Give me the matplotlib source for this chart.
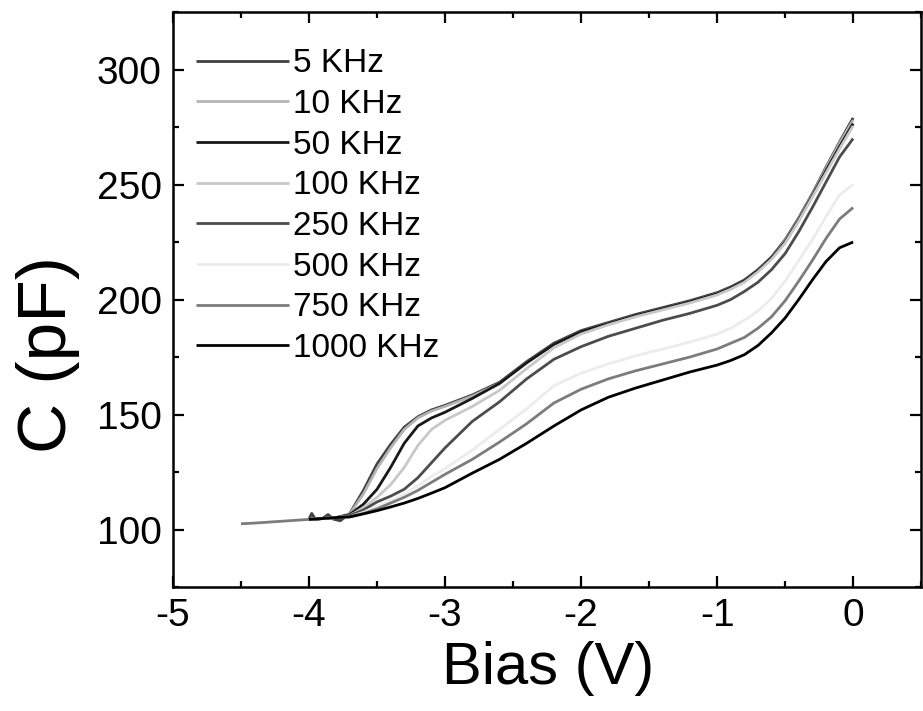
'''
C-V curves at several frequencies
'''

import matplotlib
matplotlib.use("Agg")
import matplotlib.pyplot as plt
from matplotlib.ticker import MultipleLocator

plt.rcParams['font.family'] = ['Liberation Sans', 'DejaVu Sans']
plt.rcParams['axes.unicode_minus'] = False

# shared bias grid (V)
bias = [-3.7, -3.6, -3.5, -3.4, -3.3, -3.2, -3.1, -3.0, -2.8, -2.6,
        -2.4, -2.2, -2.0, -1.8, -1.6, -1.4, -1.2, -1.0, -0.9, -0.8,
        -0.7, -0.6, -0.5, -0.4, -0.3, -0.2, -0.1, 0.0]

# low bias start (with the small noise near -4 V)
start_bias = [-4.0, -3.98, -3.95, -3.9, -3.86, -3.82, -3.77]
start_c = [104.5, 107.0, 104.2, 104.8, 106.5, 104.5, 103.8]
tail_bias = [-4.5, -4.4, -4.3, -4.2, -4.1, -4.0, -3.9, -3.8]
tail_c = [102.5, 102.8, 103.2, 103.6, 104.0, 104.4, 104.8, 105.2]
common_bias = [-4.0, -3.9, -3.8]
common_c = [104.4, 104.8, 105.2]

labels = ["5 KHz", "10 KHz", "50 KHz", "100 KHz",
          "250 KHz", "500 KHz", "750 KHz", "1000 KHz"]
colors = ["#404040", "#b4b4b4", "#181818", "#c8c8c8",
          "#4c4c4c", "#ececec", "#7c7c7c", "#000000"]

c_5k = [107.0, 117.0, 128.5, 137.0, 144.5, 149.0, 152.0, 154.0, 158.5, 164.0,
        173.0, 181.0, 186.5, 190.0, 193.5, 196.5, 199.5, 203.0, 205.5, 208.5,
        213.0, 218.5, 226.0, 235.5, 246.0, 257.5, 268.5, 279.0]
c_10k = [106.8, 115.5, 126.5, 135.5, 143.5, 148.5, 151.5, 153.5, 158.0, 163.5,
         172.5, 180.5, 186.0, 189.5, 193.0, 196.0, 199.0, 202.5, 205.0, 208.0,
         212.5, 218.0, 225.5, 235.0, 245.5, 257.0, 268.0, 278.0]
c_50k = [106.5, 111.0, 117.5, 127.0, 137.5, 145.0, 148.5, 151.0, 157.0, 163.5,
         172.5, 180.5, 186.0, 189.5, 193.0, 196.0, 199.0, 202.5, 205.0, 208.0,
         212.5, 218.0, 225.0, 234.5, 245.0, 256.0, 266.5, 276.5]
c_100k = [106.0, 109.5, 114.0, 119.5, 127.0, 136.5, 143.5, 147.5, 153.5, 160.5,
          170.0, 179.0, 185.0, 189.0, 192.5, 195.5, 198.5, 202.0, 204.5, 207.5,
          212.0, 217.5, 224.5, 234.0, 244.5, 255.0, 265.5, 275.5]
c_250k = [106.0, 108.5, 112.0, 114.5, 117.5, 122.5, 129.0, 135.5, 147.0, 155.5,
          165.5, 174.0, 179.5, 184.0, 187.5, 191.0, 194.0, 197.5, 200.0, 203.5,
          207.5, 213.0, 220.0, 229.5, 240.0, 251.0, 262.0, 270.0]
c_500k = [105.5, 107.5, 110.0, 112.5, 115.5, 119.0, 123.0, 126.5, 134.5, 143.5,
          152.5, 162.5, 168.0, 172.0, 175.5, 178.5, 181.5, 185.0, 187.5, 191.0,
          195.0, 200.5, 208.0, 217.0, 226.0, 236.0, 245.5, 250.0]
c_750k = [105.5, 107.0, 109.0, 111.5, 114.0, 117.0, 120.5, 124.0, 130.5, 138.0,
          146.0, 155.0, 161.0, 165.5, 169.0, 172.0, 175.0, 178.5, 181.0, 183.5,
          187.5, 192.5, 199.5, 208.0, 217.0, 226.5, 235.0, 240.0]
c_1000k = [105.5, 106.8, 108.2, 109.8, 111.5, 113.5, 115.8, 118.2, 124.5, 130.5,
           137.5, 145.0, 152.0, 157.5, 161.5, 165.0, 168.5, 171.5, 173.5, 176.0,
           180.0, 185.5, 192.0, 200.0, 208.5, 216.5, 222.5, 225.0]

series = [c_5k, c_10k, c_50k, c_100k, c_250k, c_500k, c_750k, c_1000k]

fig = plt.figure(figsize=(9.23, 7.11), dpi=100)
ax = fig.add_axes([0.1874, 0.1744, 0.8106, 0.8086])

for lab, col, c in zip(labels, colors, series):
    if lab == "5 KHz":
        x, y = start_bias + bias, start_c + c
    elif lab == "750 KHz":
        x, y = tail_bias + bias, tail_c + c
    else:
        x, y = common_bias + bias, common_c + c
    ax.plot(x, y, color=col, lw=2.0, label=lab, solid_capstyle='butt')

ax.set_xlim(-5, 0.5)
ax.set_ylim(75, 325)
ax.xaxis.set_major_locator(MultipleLocator(1))
ax.xaxis.set_minor_locator(MultipleLocator(0.5))
ax.set_yticks([100, 150, 200, 250, 300])
ax.yaxis.set_minor_locator(MultipleLocator(25))

ax.tick_params(which='both', direction='in', top=True, right=True,
               width=1.6, labelsize=28)
ax.tick_params(which='major', length=8, pad=8)
ax.tick_params(which='minor', length=4.5)
for s in ax.spines.values():
    s.set_linewidth(1.8)

fig.text(48 / 923, 1 - 355 / 711, "C (pF)", rotation=90,
         ha='center', va='center', fontsize=50)
fig.text(548 / 923, 1 - 668 / 711, "Bias (V)",
         ha='center', va='center', fontsize=43)

ax.legend(loc='upper left', bbox_to_anchor=(0.031, 0.937), frameon=False,
          fontsize=24, handlelength=2.8, handletextpad=0.1,
          labelspacing=0.29, borderpad=0, borderaxespad=0)

fig.savefig("out.png", dpi=100)
